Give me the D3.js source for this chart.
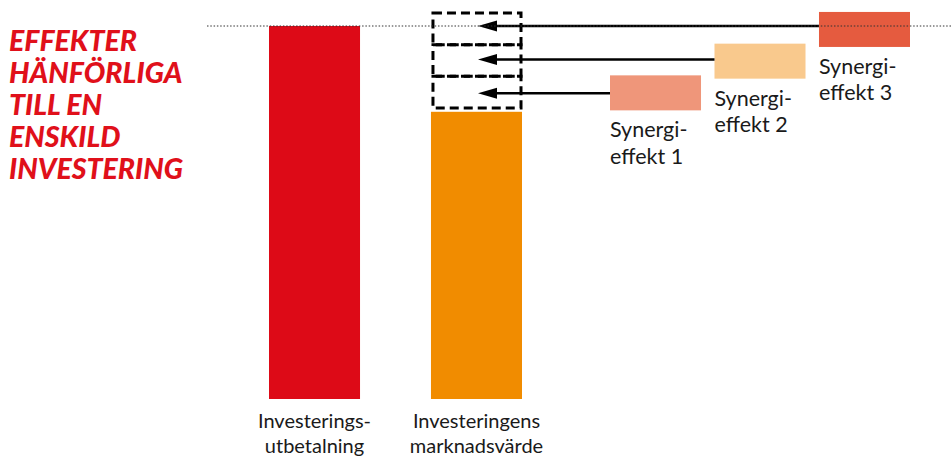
<!DOCTYPE html>
<html><head><meta charset="utf-8">
<script src="https://cdn.jsdelivr.net/npm/d3@7"></script>
<style>
html,body{margin:0;padding:0;background:#fff;}
svg{display:block;}
</style></head>
<body>
<svg id="chart" width="952" height="457"></svg>
<script>
// ---- data ----
const titleLines = ["EFFEKTER", "HÄNFÖRLIGA", "TILL EN", "ENSKILD", "INVESTERING"];
const categories = ["Investeringsutbetalning", "Investeringens marknadsvärde"];
const categoryLabels = [["Investerings-", "utbetalning"], ["Investeringens", "marknadsvärde"]];
const values = [100, 77];
const synergies = ["Synergieffekt 1", "Synergieffekt 2", "Synergieffekt 3"];
const synergyLabels = [["Synergi-", "effekt 1"], ["Synergi-", "effekt 2"], ["Synergi-", "effekt 3"]];
const synergyValues = [8.5, 8.5, 8.5];
const arrowLevels = [82, 91, 100];
const barColors = ["#DD0A17", "#F18C00"];
const synergyColors = ["#EF967A", "#F9C98D", "#E55B3F"];

// ---- layout ----
const svg = d3.select("#chart");
const y = d3.scaleLinear().domain([0, 100]).range([399, 26]);
const x = d3.scaleBand().domain(categories).range([269, 522]).paddingInner(0.438).paddingOuter(0);
const xs = d3.scaleBand().domain(synergies).range([610, 910]).paddingInner(0.129).paddingOuter(0);
const bw = x.bandwidth();
const labelFont = "Lato, 'Open Sans', sans-serif";

// title
svg.append("text")
  .attr("x", 9).attr("y", 51)
  .attr("fill", "#E0101A")
  .attr("font-family", labelFont)
  .attr("font-weight", 900).attr("font-style", "italic")
  .attr("font-size", 28.5)
  .selectAll("tspan").data(titleLines).join("tspan")
  .attr("x", 9).attr("dy", (d, i) => i === 0 ? 0 : 32)
  .text(d => d);

// main bars
svg.selectAll("rect.bar").data(values).join("rect")
  .attr("class", "bar")
  .attr("x", (d, i) => x(categories[i]))
  .attr("y", d => y(d))
  .attr("width", bw)
  .attr("height", d => y(0) - y(d))
  .attr("fill", (d, i) => barColors[i]);

// dashed synergy boxes stacked on the market value bar
let base = values[1] + 1;
const stacks = synergyValues.map(v => { const s = {lo: base, hi: base + v}; base += v; return s; });
const bx = x(categories[1]);
svg.selectAll("rect.dash").data(stacks).join("rect")
  .attr("class", "dash")
  .attr("x", bx + 2).attr("width", bw - 3)
  .attr("y", d => y(d.hi)).attr("height", d => y(d.lo) - y(d.hi))
  .attr("fill", "none").attr("stroke", "#000")
  .attr("stroke-width", 3).attr("stroke-dasharray", "9,5");

// synergy boxes
const synBoxH = 35;
svg.selectAll("rect.syn").data(stacks).join("rect")
  .attr("class", "syn")
  .attr("x", (d, i) => xs(synergies[i]))
  .attr("y", d => y(d.hi) - 1)
  .attr("width", xs.bandwidth())
  .attr("height", synBoxH)
  .attr("fill", (d, i) => synergyColors[i]);

// synergy labels
synergyLabels.forEach((lines, i) => {
  const bottom = y(stacks[i].hi) - 1 + synBoxH;
  svg.append("text")
    .attr("x", xs(synergies[i])).attr("y", bottom + 27)
    .attr("font-family", labelFont).attr("font-size", 21.5)
    .attr("fill", "#1a1a1a")
    .selectAll("tspan").data(lines).join("tspan")
    .attr("x", xs(synergies[i])).attr("dy", (d, j) => j === 0 ? 0 : 26.5)
    .text(d => d);
});

// arrows
const tipX = bx + bw / 2 + 1.5;
arrowLevels.forEach((lv, i) => {
  const ay = y(lv);
  const endX = xs(synergies[i]);
  svg.append("line")
    .attr("x1", tipX + 10).attr("x2", endX)
    .attr("y1", ay).attr("y2", ay)
    .attr("stroke", "#000").attr("stroke-width", 2.5);
  svg.append("path")
    .attr("d", `M${tipX},${ay} L${tipX + 19},${ay - 5.5} L${tipX + 19},${ay + 5.5} Z`)
    .attr("fill", "#000");
});

// dotted reference line
svg.append("line")
  .attr("x1", 207).attr("x2", 952)
  .attr("y1", y(values[0])).attr("y2", y(values[0]))
  .attr("stroke", "#333").attr("stroke-width", 1)
  .attr("stroke-dasharray", "1.5,1.8");

// category labels
categoryLabels.forEach((lines, i) => {
  const cx = x(categories[i]) + bw / 2;
  svg.append("text")
    .attr("x", cx).attr("y", 428)
    .attr("text-anchor", "middle")
    .attr("font-family", labelFont).attr("font-size", 20)
    .attr("fill", "#1a1a1a")
    .selectAll("tspan").data(lines).join("tspan")
    .attr("x", cx).attr("dy", (d, j) => j === 0 ? 0 : 25)
    .text(d => d);
});
</script>
</body></html>
